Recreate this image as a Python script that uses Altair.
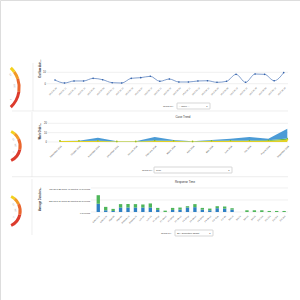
import math
import altair as alt
import pandas as pd

# ---------------- data ----------------
# Row 1 : outflow trend (line)
trend_labels = ["2016-01-04", "2016-01-11", "2016-01-18", "2016-01-25", "2016-02-01",
                "2016-02-08", "2016-02-15", "2016-02-22", "2016-02-29", "2016-03-07",
                "2016-03-14", "2016-03-21", "2016-03-28", "2016-04-04", "2016-04-11",
                "2016-04-18", "2016-04-25", "2016-05-02", "2016-05-09", "2016-05-16",
                "2016-05-23", "2016-05-30", "2016-06-06", "2016-06-13", "2016-06-20"]
trend_values = [3.2, 0.6, 2.4, 2.4, 4.7, 3.5, 0.9, 0.6, 4.7, 5.3, 6.5, 2.1, 4.1,
                1.5, 1.5, 2.4, 2.6, 1.2, 2.1, 8.2, 1.2, 8.5, 8.2, 2.6, 9.7]
trend_ticks = [0, 10]

# Row 2 : case trend (stacked area)
case_months = ["September 2015", "October 2015", "November 2015", "December 2015",
               "January 2016", "February 2016", "March 2016", "April 2016",
               "May 2016", "June 2016", "July 2016", "August 2016", "September 2016"]
case_series = ["Problem", "Request", "Incident"]
case_problem = [1.0, 1.0, 1.0, 0.6, 0.6, 1.2, 1.0, 0.6, 1.0, 1.0, 1.0, 1.2, 2.5]
case_request = [0.1, 0.2, 0.4, 0.1, 0.1, 0.4, 0.3, 0.1, 0.3, 0.5, 0.6, 0.6, 1.2]
case_incident = [0.0, 0.2, 3.2, 0.0, 0.0, 3.8, 0.8, 0.0, 0.8, 2.1, 3.8, 1.8, 10.6]
case_ticks = [0, 10, 20]

# Row 3 : response time (stacked bars, days)
sla_targets = ["Critical 1h", "Critical 2h", "High 4h", "High 8h", "Medium 1d",
               "Medium 2d", "Low 3d", "Low 5d", "P1 Resp", "P1 Resol", "P2 Resp",
               "P2 Resol", "P3 Resp", "P3 Resol", "P4 Resp", "P4 Resol", "VIP 30m",
               "VIP 4h", "Std 1d", "Std 2d", "Std 3d", "Std 5d", "Ext 10d",
               "Ext 15d", "Ext 20d", "Ext 30d"]
resp_series = ["Response", "Resolution"]
resp_response = [159, 33, 20, 86, 86, 86, 86, 86, 40, 0, 40, 46, 86, 93, 46, 33, 73, 66,
                 46, 0, 0, 0, 0, 0, 0, 0]
resp_resolution = [165, 66, 40, 66, 66, 66, 59, 79, 39, 26, 39, 40, 26, 59, 33, 33, 39, 40,
                   27, 0, 33, 33, 33, 20, 20, 20]
resp_ticks = [0, 231.4728, 462.9456]

# Gauges
gauge_segments = ["low", "mid", "high", "critical"]
gauge_values = [12, 18, 30, 40]
gauge_colors = ["#f3d11c", "#f29a26", "#ea652d", "#dc3b2d"]
gauge_labels = ["50", "100", "0"]

FONT = "Liberation Sans"
GRID = "#e6e6e6"
BORDER = "#e2e2e2"
TXT = "#333333"

one = pd.DataFrame({"k": [0]})


def rule(x, x2, y, y2, color=BORDER, sw=0.6):
    return alt.Chart(one).mark_rule(color=color, strokeWidth=sw).encode(
        x=alt.value(x), x2=alt.value(x2), y=alt.value(y), y2=alt.value(y2))


def text(s, x, y, size=2.6, align="left", angle=0, color=TXT, weight="normal"):
    return alt.Chart(one).mark_text(text=s, align=align, baseline="middle", fontSize=size,
                                    font=FONT, color=color, angle=angle,
                                    fontWeight=weight).encode(
        x=alt.value(x), y=alt.value(y))


def gauge(cx, cy, r):
    gdf = pd.DataFrame({"seg": gauge_segments, "val": gauge_values,
                        "ord": list(range(len(gauge_segments)))})
    # visible part of the gauge ring (its centre lies left of the screenshot)
    a0 = math.asin(min(1.0, (11.8 - cx) / r))
    ring = alt.Chart(gdf).mark_arc(innerRadius=r - 3, outerRadius=r).encode(
        theta=alt.Theta("val:Q", stack=True,
                        scale=alt.Scale(domain=[0, sum(gauge_values)],
                                        range=[a0, math.pi - a0])),
        color=alt.Color("seg:N", scale=alt.Scale(domain=gauge_segments, range=gauge_colors),
                        legend=None),
        order=alt.Order("ord:Q"),
        x=alt.value(cx), y=alt.value(cy))
    labs = []
    for lab, ang in zip(gauge_labels, [0.95, 1.5, 2.15]):
        rr = r - 6
        labs.append(text(lab, cx + rr * math.sin(ang), cy - rr * math.cos(ang), 2.2,
                         align="center", angle=90 + math.degrees(ang) - 90 + 0,
                         color="#9a9a9a"))
    return [ring] + labs


def widget(label_x, box_x, box_x2, y, value):
    return [
        alt.Chart(one).mark_rect(fill="white", stroke="#9a9a9a", strokeWidth=0.4,
                                 cornerRadius=0.5).encode(
            x=alt.value(box_x), x2=alt.value(box_x2), y=alt.value(y - 3),
            y2=alt.value(y + 3)),
        text("Group by:", label_x, y, 2.4),
        text(value, box_x + 2, y, 2.4),
        text("▼", box_x2 - 3, y, 1.8, align="center", color="#444"),
    ]


def xaxis(size, at_y):
    return alt.Axis(title=None, orient="bottom", offset=-(300 - at_y), labelAngle=-45,
                    labelFontSize=size, labelColor="#555", labelPadding=2.5, ticks=False,
                    domain=False, grid=False, labelOverlap=False, labelFont=FONT)


def yaxis(values, at_x, size=2.6, **kw):
    return alt.Axis(title=None, orient="left", offset=-at_x, values=values, labelFont=FONT,
                    labelColor="#333", labelFontSize=size, labelPadding=1.5, ticks=False,
                    domain=False, grid=False, **kw)


# ---------------- row 1 : line ----------------
df1 = pd.DataFrame({"week": trend_labels, "count": trend_values})
y1 = alt.Y("count:Q", scale=alt.Scale(domain=[0, 10], range=[83.7, 72.3], nice=False,
                                      zero=False),
           axis=yaxis(trend_ticks, 47))
x1 = alt.X("week:O", sort=None,
           scale=alt.Scale(type="point", range=[55, 283.7], padding=0),
           axis=xaxis(2.0, 83.7))
grid1 = alt.Chart(pd.DataFrame({"count": trend_ticks})).mark_rule(
    color=GRID, strokeWidth=0.6).encode(y=y1, x=alt.value(47), x2=alt.value(288))
line1 = alt.Chart(df1).mark_line(interpolate="monotone", color="#4a76b9",
                                 strokeWidth=0.7).encode(x=x1, y=y1)
pts1 = alt.Chart(df1).mark_circle(color="#2f5ea8", size=2.5, opacity=1).encode(x=x1, y=y1)
row1 = alt.layer(grid1, line1, pts1)

# ---------------- row 2 : stacked area ----------------
rows2 = []
for i, (s, vals) in enumerate(zip(case_series, [case_problem, case_request, case_incident])):
    for m, v in zip(case_months, vals):
        rows2.append({"month": m, "type": s, "orders": v, "ord": i})
df2 = pd.DataFrame(rows2)
sc2 = alt.Scale(domain=[0, 20], range=[142, 123.3], nice=False, zero=False)
x2 = alt.X("month:O", sort=None, scale=alt.Scale(type="point", range=[60, 287.3], padding=0),
           axis=xaxis(2.2, 142))
grid2 = alt.Chart(pd.DataFrame({"orders": case_ticks})).mark_rule(
    color=GRID, strokeWidth=0.6).encode(
    y=alt.Y("orders:Q", scale=sc2, axis=yaxis(case_ticks, 48)),
    x=alt.value(48), x2=alt.value(288))
ys2 = alt.Y("orders:Q", stack="zero", scale=sc2, axis=yaxis(case_ticks, 48))
area2 = alt.Chart(df2).mark_area(interpolate="linear", opacity=1).encode(
    x=x2, y=ys2, order=alt.Order("ord:Q"),
    color=alt.Color("type:N", scale=alt.Scale(domain=case_series,
                                              range=["#e3d224", "#6bb843", "#4b9bd6"]),
                    legend=None))
pts2 = alt.Chart(df2).mark_circle(opacity=1).encode(
    x=x2, y=ys2, order=alt.Order("ord:Q"),
    color=alt.Color("type:N", scale=alt.Scale(domain=case_series,
                                              range=["#e3d224", "#6bb843", "#3f8ccb"]),
                    legend=None),
    size=alt.Size("type:N", scale=alt.Scale(domain=case_series, range=[4, 0, 2.5]),
                  legend=None))
row2 = alt.layer(grid2, area2, pts2)

# ---------------- row 3 : stacked bars ----------------
rows3 = []
for i, (s, vals) in enumerate(zip(resp_series, [resp_response, resp_resolution])):
    for t, v in zip(sla_targets, vals):
        rows3.append({"target": t, "part": s, "days": v, "ord": i})
df3 = pd.DataFrame(rows3)
label_expr = ("datum.value < 1 ? '0 seconds' : datum.value < 300 ? "
              "'231 days 11 hours 20 minutes 50 seconds' : "
              "'462 days 22 hours 41 minutes 40 seconds'")
sc3 = alt.Scale(domain=[0, 462.9456], range=[212, 188], nice=False, zero=False)
ax3 = yaxis(resp_ticks, 91, size=2.2, labelExpr=label_expr)
grid3 = alt.Chart(pd.DataFrame({"days": resp_ticks})).mark_rule(
    color=GRID, strokeWidth=0.6).encode(
    y=alt.Y("days:Q", scale=sc3, axis=ax3), x=alt.value(91), x2=alt.value(288))
bars3 = alt.Chart(df3).mark_bar().encode(
    x=alt.X("target:N", sort=None,
            scale=alt.Scale(type="band", range=[96.6, 285.8], paddingInner=0.55,
                            paddingOuter=0),
            axis=xaxis(2.1, 212)),
    y=alt.Y("days:Q", stack="zero", scale=sc3, axis=ax3),
    color=alt.Color("part:N", scale=alt.Scale(domain=resp_series,
                                              range=["#2f80c4", "#4fb65a"]), legend=None),
    order=alt.Order("ord:Q"))
row3 = alt.layer(grid3, bars3)

# ---------------- decorations ----------------
deco = [
    # panel borders
    rule(33, 33, 63, 111), rule(12, 288, 111, 111),
    rule(32, 32, 112, 177), rule(12, 288, 176.7, 176.7),
    rule(32, 32, 179, 235),
    # titles
    text("Case Trend", 183, 117, 2.9, align="center"),
    text("Response Time", 185, 181.5, 2.9, align="center"),
    text("Outflow date…", 40, 68.5, 2.6, align="center", angle=270, weight="bold"),
    text("Work Order…", 40, 131, 2.6, align="center", angle=270, weight="bold"),
    text("Average Duration…", 40, 199, 2.6, align="center", angle=270, weight="bold"),
] + widget(163, 177, 210, 106, "-- None --") \
  + widget(142, 154, 232, 170, "Type") \
  + widget(161, 175, 213, 233, "SLA Definition Target")

gauges = gauge(-7.8, 87.5, 28.5) + gauge(4.1, 146, 17.6) + gauge(4.1, 211, 17.6)

chart = alt.layer(row1, row2, row3, *gauges, *deco).resolve_scale(
    x="independent", y="independent", color="independent", theta="independent",
    size="independent"
).properties(
    width=300, height=300, autosize=alt.AutoSizeParams(type="none"), padding=0
).configure_view(strokeOpacity=0).configure(background="white")

chart.save("out.html", embed_options={"renderer": "svg", "actions": False})
